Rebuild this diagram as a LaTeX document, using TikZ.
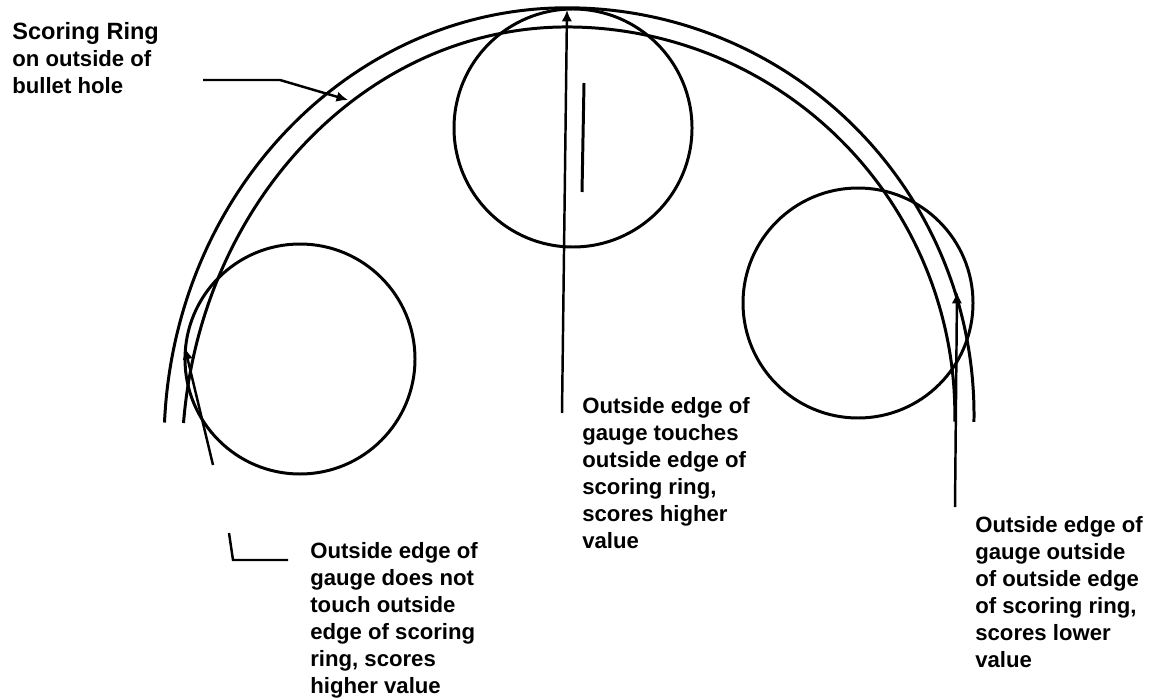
\documentclass[tikz,border=0pt]{standalone}
\usepackage{fontspec}
\setmainfont{Liberation Sans}
\usetikzlibrary{arrows.meta}
\tikzset{
  ring/.style={line width=1.7pt},
  gauge/.style={circle, draw, line width=1.7pt, inner sep=0pt},
  lead/.style={line width=1.4pt, -{Latex[length=6.5pt,width=6pt]}},
  note/.style={anchor=north west, align=left, inner sep=0pt,
    font=\bfseries\fontsize{12.6}{15.4}\selectfont}
}
\begin{document}
\begin{tikzpicture}
\useasboundingbox (0,0) rectangle (23.16,13.96);

% scoring ring: outer and inner edge
\draw[ring] (3.29,5.51) arc[start angle=177.2, end angle=90, x radius=8.06, y radius=8.72]
  arc[start angle=90, end angle=-1, radius=8.14];
\draw[ring] (3.67,5.50) arc[start angle=174.74, end angle=90, x radius=7.70, y radius=8.72]
  arc[start angle=90, end angle=-1, radius=7.76];

% gauges
\node[gauge, minimum size=4.6cm] (gauge l) at (6.00,6.78) {};
\node[gauge, minimum size=4.76cm] (gauge c) at (11.46,11.40) {};
\node[gauge, minimum size=4.6cm] (gauge r) at (17.16,7.90) {};
\draw[ring] (11.68,12.30) -- (11.64,10.12);

% labels
\node[note] (ring note) at (0.24,13.52) {\fontsize{13.4}{15.4}\selectfont Scoring Ring\\on outside of\\bullet hole};
\node[note] (top note) at (11.64,6.02) {Outside edge of\\gauge touches\\outside edge of\\scoring ring,\\scores higher\\value};
\node[note] (out note) at (19.50,3.64) {Outside edge of\\gauge outside\\of outside edge\\of scoring ring,\\scores lower\\value};
\node[note] (in note) at (6.20,3.12) {Outside edge of\\gauge does not\\touch outside\\edge of scoring\\ring, scores\\higher value};

% leaders
\coordinate (ring tail) at (4.06,12.36);
\coordinate (ring bend) at (5.60,12.36);
\coordinate (ring tip) at (6.96,11.96);
\draw[lead] (ring tail) -- (ring bend) -- (ring tip);

\coordinate (top tail) at (11.24,5.70);
\coordinate (top tip) at (11.34,13.76);
\draw[lead] (top tail) -- (top tip);

\coordinate (out tail) at (19.10,3.82);
\coordinate (out tip) at (19.14,8.12);
\draw[lead] (out tail) -- (out tip);

\coordinate (in tail) at (4.26,4.66);
\coordinate (in tip) at (3.70,7.00);
\draw[lead] (in tail) -- (in tip);

\coordinate (in a) at (4.58,3.30);
\coordinate (in b) at (4.66,2.76);
\coordinate (in c) at (5.76,2.76);
\draw[line width=1.4pt] (in a) -- (in b) -- (in c);
\end{tikzpicture}
\end{document}
